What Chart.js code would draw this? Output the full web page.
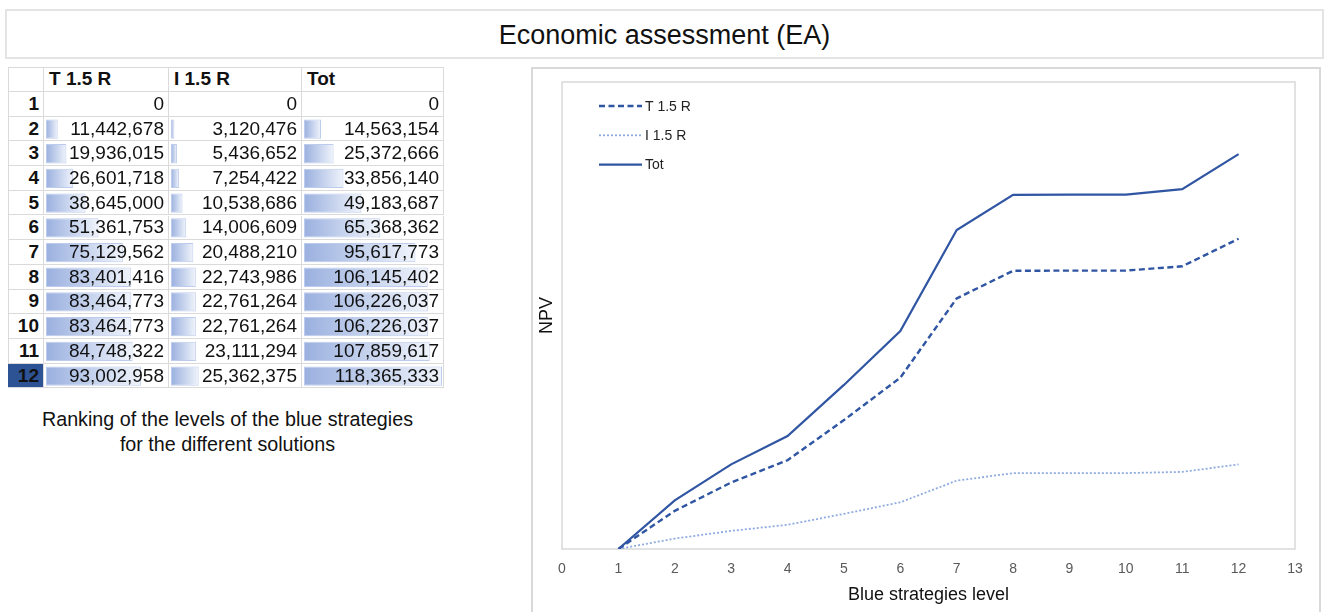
<!DOCTYPE html>
<html><head><meta charset="utf-8">
<script src="https://cdn.jsdelivr.net/npm/chart.js@4.4.0/dist/chart.umd.min.js"></script>
<style>
html,body{margin:0;padding:0;background:#fff;width:1325px;height:612px;overflow:hidden;font-family:'Liberation Sans',Arial,sans-serif;}
#titleBox{position:absolute;left:5px;top:9px;width:1315px;height:46px;border:2px solid #e4e4e4;text-align:center;font-size:27px;line-height:49px;color:#111;}
#tableFrame{position:absolute;left:8px;top:67px;width:436px;height:321px;box-sizing:border-box;border-left:1px solid #dadada;border-top:1px solid #dadada;}
.cell{position:absolute;box-sizing:border-box;border-right:1px solid #dadada;border-bottom:1px solid #dadada;font-size:19px;padding:0 4px;white-space:nowrap;z-index:3;color:#111;display:flex;align-items:center;}
.num{justify-content:flex-end;}
.hdr{font-weight:bold;justify-content:flex-start;padding-left:5px;}
.rowh{font-weight:bold;justify-content:flex-end;}
.barBox{position:absolute;z-index:1;}
#caption{position:absolute;left:0;top:407px;width:455px;text-align:center;font-size:19.7px;line-height:25px;color:#111;}
#chartFrame{position:absolute;left:531px;top:67px;width:790px;height:560px;border:2px solid #d9d9d9;box-sizing:border-box;}
#chartBox{position:absolute;left:531px;top:67px;width:794px;height:545px;}
</style>
</head><body>
<div id="titleBox">Economic assessment (EA)</div>
<div id="tableFrame"></div>
<div id="cells"></div>
<div id="caption">Ranking of the levels of the blue strategies<br>for the different solutions</div>
<div id="chartFrame"></div>
<div id="chartBox"><canvas id="npv"></canvas></div>
<script>
// ---- data ----
const levels = [1,2,3,4,5,6,7,8,9,10,11,12];
const seriesNames = ['T 1.5 R','I 1.5 R','Tot'];
const t15r = [0,11442678,19936015,26601718,38645000,51361753,75129562,83401416,83464773,83464773,84748322,93002958];
const i15r = [0,3120476,5436652,7254422,10538686,14006609,20488210,22743986,22761264,22761264,23111294,25362375];
const tot  = [0,14563154,25372666,33856140,49183687,65368362,95617773,106145402,106226037,106226037,107859617,118365333];
const xTicksMin = 0, xTicksMax = 13;
const yAxisMax = 140000000;
const xAxisTitle = 'Blue strategies level';
const yAxisTitle = 'NPV';

// ---- table layout ----
const tableLeft = 8, tableTop = 67, headerH = 25, rowH = 24.7;
const colW = [36,125,133,142];
const colLeft = [tableLeft];
for (let i=1;i<colW.length;i++) colLeft.push(colLeft[i-1]+colW[i-1]);
const cols = [t15r,i15r,tot];
const fmt = v => v.toLocaleString('en-US');
const cellsDiv = document.getElementById('cells');
function addCell(x,y,w,h,cls,text,bg,color){
  const d=document.createElement('div');
  d.className='cell '+cls;
  d.style.left=x+'px';d.style.top=y+'px';d.style.width=w+'px';d.style.height=h+'px';
  if(bg) d.style.background=bg;
  if(color) d.style.color=color;
  d.textContent=text;cellsDiv.appendChild(d);
}
addCell(colLeft[0],tableTop,colW[0],headerH,'hdr','');
seriesNames.forEach((n,i)=>addCell(colLeft[i+1],tableTop,colW[i+1],headerH,'hdr',n));
levels.forEach((lv,r)=>{
  const y = tableTop+headerH+r*rowH;
  const last = r===levels.length-1;
  addCell(colLeft[0],y,colW[0],rowH,'rowh',String(lv), last?'#2E5395':null);
  cols.forEach((arr,c)=>addCell(colLeft[c+1],y,colW[c+1],rowH,'num',fmt(arr[r])));
});

// ---- data bars (Chart.js horizontal bars) ----
const barMax = Math.max(...t15r,...i15r,...tot);
Chart.defaults.animation = false;
cols.forEach((arr,c)=>{
  const box=document.createElement('div');
  box.className='barBox';
  box.style.left=(colLeft[c+1]+2)+'px';
  box.style.top=(tableTop+headerH)+'px';
  box.style.width=(colW[c+1]-4)+'px';
  box.style.height=(rowH*levels.length)+'px';
  const cv=document.createElement('canvas');box.appendChild(cv);
  document.body.appendChild(box);
  new Chart(cv,{
    type:'bar',
    data:{labels:levels.map(String),datasets:[{
      data:arr,
      backgroundColor:(ctx)=>{
        const ch=ctx.chart, ca=ch.chartArea;
        if(!ca) return '#a9bce4';
        const xEnd=ch.scales.x.getPixelForValue(ctx.raw||0);
        const g=ch.ctx.createLinearGradient(ca.left,0,Math.max(xEnd,ca.left+1),0);
        g.addColorStop(0,'#9AB0DF');g.addColorStop(1,'#F0F4FB');
        return g;
      },
      borderColor:'#BDCCEC',
      borderWidth:(ctx)=>ctx.raw?1:0,
      borderSkipped:false,
      barPercentage:0.78,categoryPercentage:1
    }]},
    options:{
      indexAxis:'y',responsive:true,maintainAspectRatio:false,
      layout:{padding:0},
      plugins:{legend:{display:false},tooltip:{enabled:false}},
      scales:{
        x:{display:false,min:0,max:barMax},
        y:{display:false}
      }
    }
  });
});

// ---- NPV line chart ----
const mkPts = arr => levels.map((lv,i)=>({x:lv,y:arr[i]}));
const plotBorder = {
  id:'plotBorder',
  beforeDatasetsDraw(chart){
    const {ctx,chartArea:a}=chart;
    ctx.save();ctx.strokeStyle='#d9d9d9';ctx.lineWidth=1.5;
    ctx.strokeRect(a.left,a.top,a.right-a.left,a.bottom-a.top);ctx.restore();
  }
};
const innerLegend = {
  id:'innerLegend',
  afterDatasetsDraw(chart){
    const {ctx,chartArea:a}=chart;
    const x0=a.left+37,x1=a.left+80;
    chart.data.datasets.forEach((ds,i)=>{
      const y=a.top+24+i*29.3;
      ctx.save();
      ctx.strokeStyle=ds.borderColor;ctx.lineWidth=ds.borderWidth;ctx.setLineDash(ds.borderDash||[]);
      ctx.beginPath();ctx.moveTo(x0,y);ctx.lineTo(x1,y);ctx.stroke();
      ctx.setLineDash([]);
      ctx.fillStyle='#222';ctx.font='14px "Liberation Sans", Arial, sans-serif';ctx.textBaseline='middle';
      ctx.fillText(ds.label,x1+3,y+1);
      ctx.restore();
    });
  }
};
new Chart(document.getElementById('npv'),{
  type:'line',
  data:{datasets:[
    {label:seriesNames[0],data:mkPts(t15r),borderColor:'#2F55A3',borderWidth:2.4,borderDash:[6,3.5],pointRadius:0,tension:0,fill:false},
    {label:seriesNames[1],data:mkPts(i15r),borderColor:'#8FABDF',borderWidth:1.8,borderDash:[2,2],pointRadius:0,tension:0,fill:false},
    {label:seriesNames[2],data:mkPts(tot),borderColor:'#2F55A3',borderWidth:2.2,pointRadius:0,tension:0,fill:false}
  ]},
  options:{
    responsive:true,maintainAspectRatio:false,
    layout:{padding:{left:1.4,right:30,top:15,bottom:2}},
    plugins:{legend:{display:false},tooltip:{enabled:false}},
    scales:{
      x:{type:'linear',min:xTicksMin,max:xTicksMax,
         ticks:{stepSize:1,color:'#595959',padding:12,font:{family:'"Liberation Sans", Arial, sans-serif',size:14}},
         grid:{display:false,drawTicks:false},border:{display:false},
         title:{display:true,text:xAxisTitle,color:'#111',font:{family:'"Liberation Sans", Arial, sans-serif',size:18},padding:{top:-5.4,bottom:4}}},
      y:{min:0,max:yAxisMax,
         ticks:{display:false},grid:{display:false,drawTicks:false},border:{display:false},
         title:{display:true,text:yAxisTitle,color:'#111',font:{family:'"Liberation Sans", Arial, sans-serif',size:18},padding:{top:4,bottom:4}}}
    }
  },
  plugins:[plotBorder,innerLegend]
});
</script>
</body></html>
